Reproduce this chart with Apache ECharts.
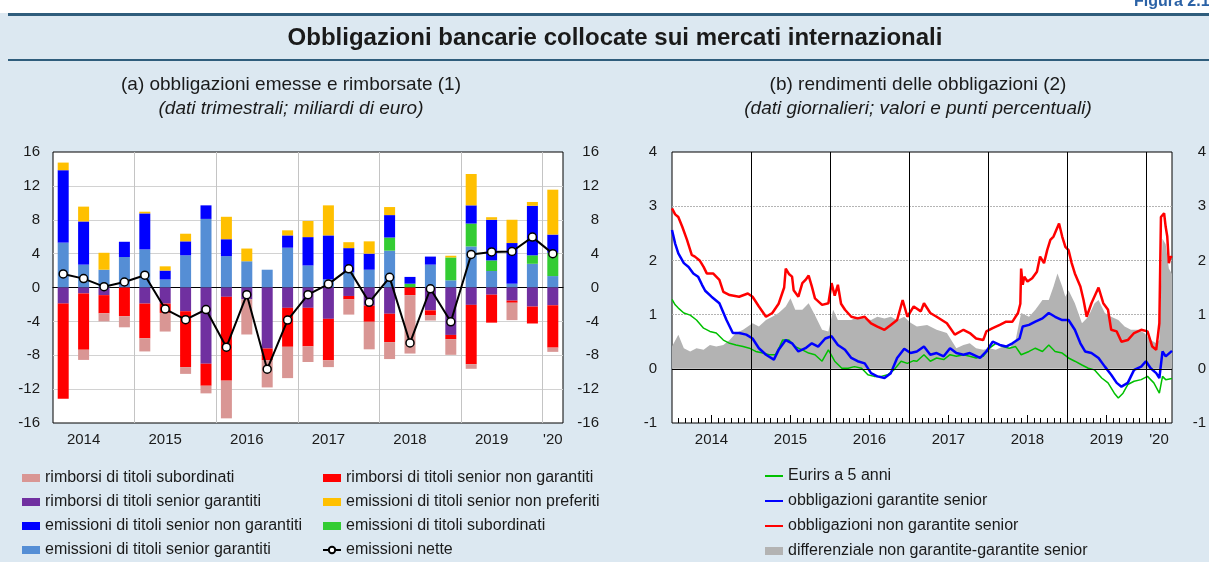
<!DOCTYPE html>
<html>
<head>
<meta charset="utf-8">
<script src="https://cdn.jsdelivr.net/npm/echarts@6/dist/echarts.min.js"></script>
<style>
html, body { margin: 0; padding: 0; background: #dce8f1; }
#main { width: 1209px; height: 562px; }
</style>
</head>
<body>
<div id="main"></div>
<script>
// pannello (a): dati trimestrali, miliardi di euro
const quarters = [
  '2014T1', '2014T2', '2014T3', '2014T4',
  '2015T1', '2015T2', '2015T3', '2015T4',
  '2016T1', '2016T2', '2016T3', '2016T4',
  '2017T1', '2017T2', '2017T3', '2017T4',
  '2018T1', '2018T2', '2018T3', '2018T4',
  '2019T1', '2019T2', '2019T3', '2019T4',
  '2020T1'
];
const quarterLabels = ['2014', '2015', '2016', '2017', '2018', '2019', "'20"];

const emSeniorGarantiti = [5.3, 2.7, 2.1, 3.6, 4.5, 0.95, 3.8, 8.1, 3.7, 3.1, 2.1, 4.7, 2.6, 0.95, 1.8, 2.1, 4.35, 0, 2.7, 0.85, 4.85, 1.95, 0.45, 2.8, 1.35];
const emSubordinati = [0, 0, 0, 0, 0, 0, 0, 0, 0, 0, 0, 0, 0, 0, 0, 0, 1.55, 0.45, 0, 2.7, 2.7, 1.25, 0, 1.0, 2.75];
const emSeniorNonGarantiti = [8.55, 5.1, 0, 1.8, 4.25, 1.05, 1.65, 1.6, 2.0, 0, 0, 1.45, 3.35, 5.2, 2.85, 1.9, 2.65, 0.8, 0.95, 0, 2.15, 4.8, 4.8, 5.85, 2.15];
const emNonPreferiti = [0.9, 1.75, 2.0, 0, 0.2, 0.5, 0.9, 0, 2.65, 1.5, 0, 0.6, 1.9, 3.55, 0.7, 1.45, 0.95, 0, 0, 0.2, 3.7, 0.3, 2.75, 0.45, 5.3];
const rimbSeniorGarantiti = [-1.9, -0.7, -0.9, 0, -1.9, -1.9, -2.8, -9.0, -1.1, -1.4, -7.2, -2.4, -2.4, -3.7, -1.0, -2.15, -3.1, 0, -2.7, -5.6, -2.05, -0.85, -1.55, -2.25, -2.1];
const rimbSeniorNonGarantiti = [-11.25, -6.65, -2.15, -3.4, -4.1, -1.1, -6.6, -2.6, -9.9, 0, -1.4, -4.6, -4.55, -4.9, -0.4, -1.9, -3.35, -0.9, -0.6, -0.5, -7.0, -3.3, -0.25, -2.0, -5.0];
const rimbSubordinati = [0, -1.2, -0.95, -1.3, -1.55, -2.2, -0.8, -0.9, -4.45, -4.15, -3.2, -3.7, -1.85, -0.8, -1.8, -3.25, -2.0, -6.9, -0.6, -1.85, -0.55, 0, -2.05, 0, -0.5];
const emissioniNette = [1.6, 1.05, 0.1, 0.65, 1.45, -2.55, -3.8, -2.6, -7.05, -0.85, -9.65, -3.85, -0.85, 0.4, 2.2, -1.75, 1.2, -6.55, -0.15, -4.05, 3.9, 4.2, 4.25, 5.95, 4.0];

// pannello (b): dati giornalieri (anno decimale, valore)
const rateLabels = ['2014', '2015', '2016', '2017', '2018', '2019', "'20"];
const rateStart = 2014;
const rateEnd = 2020.33;

const eurirs5 = [
  [2014.00, 1.28], [2014.04, 1.18], [2014.08, 1.12], [2014.15, 1.03], [2014.23, 0.99], [2014.31, 0.9],
  [2014.40, 0.75], [2014.48, 0.69], [2014.56, 0.66], [2014.65, 0.53], [2014.73, 0.47], [2014.81, 0.44],
  [2014.90, 0.41], [2014.98, 0.38], [2015.06, 0.32], [2015.15, 0.29], [2015.23, 0.26], [2015.31, 0.26],
  [2015.36, 0.4], [2015.40, 0.53], [2015.48, 0.53], [2015.56, 0.41], [2015.65, 0.35], [2015.73, 0.29],
  [2015.81, 0.26], [2015.90, 0.14], [2015.98, 0.35], [2016.06, 0.14], [2016.15, 0.01], [2016.23, 0.01],
  [2016.31, 0.04], [2016.40, 0.01], [2016.48, -0.11], [2016.56, -0.14], [2016.65, -0.14], [2016.73, -0.11],
  [2016.81, -0.02], [2016.90, 0.14], [2016.98, 0.10], [2017.06, 0.15], [2017.10, 0.14], [2017.19, 0.26],
  [2017.27, 0.14], [2017.35, 0.2], [2017.44, 0.17], [2017.52, 0.26], [2017.60, 0.23], [2017.69, 0.26],
  [2017.77, 0.23], [2017.85, 0.2], [2017.94, 0.23], [2018.02, 0.38], [2018.10, 0.47], [2018.19, 0.41],
  [2018.27, 0.38], [2018.35, 0.41], [2018.42, 0.26], [2018.52, 0.32], [2018.60, 0.38], [2018.69, 0.32],
  [2018.77, 0.44], [2018.85, 0.32], [2018.94, 0.29], [2019.02, 0.2], [2019.10, 0.14], [2019.19, 0.07],
  [2019.27, 0.01], [2019.35, -0.02], [2019.44, -0.17], [2019.52, -0.26], [2019.60, -0.45], [2019.65, -0.54],
  [2019.71, -0.45], [2019.77, -0.29], [2019.85, -0.23], [2019.94, -0.2], [2020.02, -0.14], [2020.10, -0.26],
  [2020.17, -0.45], [2020.21, -0.14], [2020.25, -0.2], [2020.33, -0.18]
];
const garantiteSenior = [
  [2014.00, 2.56], [2014.04, 2.31], [2014.08, 2.13], [2014.15, 1.95], [2014.21, 1.88], [2014.27, 1.76],
  [2014.33, 1.7], [2014.38, 1.55], [2014.42, 1.44], [2014.50, 1.33], [2014.60, 1.21], [2014.69, 0.9],
  [2014.73, 0.78], [2014.77, 0.66], [2014.85, 0.66], [2014.94, 0.63], [2015.02, 0.56], [2015.10, 0.38],
  [2015.19, 0.26], [2015.29, 0.17], [2015.35, 0.35], [2015.44, 0.53], [2015.52, 0.47], [2015.60, 0.32],
  [2015.69, 0.38], [2015.77, 0.47], [2015.85, 0.41], [2015.94, 0.56], [2016.02, 0.6], [2016.10, 0.44],
  [2016.19, 0.35], [2016.27, 0.2], [2016.35, 0.14], [2016.44, 0.1], [2016.52, -0.08], [2016.60, -0.14],
  [2016.69, -0.17], [2016.77, -0.08], [2016.85, 0.2], [2016.94, 0.37], [2017.02, 0.29], [2017.10, 0.32],
  [2017.19, 0.41], [2017.27, 0.26], [2017.35, 0.29], [2017.44, 0.23], [2017.52, 0.38], [2017.60, 0.29],
  [2017.69, 0.26], [2017.77, 0.29], [2017.90, 0.2], [2017.98, 0.32], [2018.06, 0.5], [2018.15, 0.44],
  [2018.23, 0.41], [2018.31, 0.47], [2018.40, 0.56], [2018.44, 0.78], [2018.52, 0.81], [2018.60, 0.87],
  [2018.69, 0.93], [2018.77, 1.03], [2018.85, 0.96], [2018.94, 0.9], [2019.02, 0.9], [2019.10, 0.72],
  [2019.17, 0.47], [2019.23, 0.32], [2019.31, 0.29], [2019.40, 0.2], [2019.48, 0.04], [2019.56, -0.11],
  [2019.63, -0.26], [2019.69, -0.33], [2019.77, -0.26], [2019.85, -0.02], [2019.94, 0.04], [2020.00, 0.14],
  [2020.06, 0.01], [2020.13, -0.08], [2020.17, -0.17], [2020.21, 0.32], [2020.25, 0.23], [2020.33, 0.33]
];
const nonGarantiteSenior = [
  [2014.00, 2.96], [2014.04, 2.85], [2014.08, 2.8], [2014.13, 2.62], [2014.19, 2.38], [2014.25, 2.1],
  [2014.29, 2.07], [2014.35, 2.0], [2014.40, 1.88], [2014.44, 1.76], [2014.52, 1.76], [2014.60, 1.64],
  [2014.65, 1.42], [2014.73, 1.36], [2014.85, 1.33], [2014.96, 1.39], [2015.02, 1.33], [2015.10, 1.15],
  [2015.19, 0.96], [2015.27, 1.03], [2015.35, 1.2], [2015.42, 1.5], [2015.44, 1.85], [2015.48, 1.75],
  [2015.52, 1.7], [2015.54, 1.45], [2015.60, 1.33], [2015.65, 1.58], [2015.69, 1.64], [2015.73, 1.72],
  [2015.77, 1.52], [2015.81, 1.3], [2015.90, 1.18], [2015.98, 1.21], [2016.02, 1.58], [2016.06, 1.35],
  [2016.10, 1.55], [2016.14, 1.2], [2016.19, 1.09], [2016.27, 0.96], [2016.35, 0.93], [2016.44, 0.96],
  [2016.52, 0.84], [2016.60, 0.78], [2016.69, 0.72], [2016.77, 0.81], [2016.85, 0.9], [2016.92, 1.27],
  [2016.98, 0.96], [2017.06, 1.15], [2017.15, 1.06], [2017.19, 1.21], [2017.27, 1.03], [2017.35, 0.96],
  [2017.48, 0.84], [2017.58, 0.63], [2017.69, 0.72], [2017.77, 0.66], [2017.85, 0.56], [2017.94, 0.53],
  [2017.98, 0.69], [2018.06, 0.75], [2018.15, 0.81], [2018.23, 0.87], [2018.31, 0.87], [2018.38, 1.03],
  [2018.41, 1.2], [2018.42, 1.85], [2018.44, 1.55], [2018.46, 1.7], [2018.50, 1.61], [2018.56, 1.67],
  [2018.62, 1.79], [2018.66, 2.07], [2018.71, 1.95], [2018.75, 2.19], [2018.79, 2.38], [2018.83, 2.44],
  [2018.90, 2.68], [2018.94, 2.44], [2018.98, 2.25], [2019.02, 2.19], [2019.06, 1.95], [2019.10, 1.76],
  [2019.17, 1.52], [2019.21, 1.27], [2019.25, 0.96], [2019.31, 1.21], [2019.40, 1.5], [2019.46, 1.21],
  [2019.52, 1.09], [2019.56, 0.72], [2019.63, 0.69], [2019.69, 0.5], [2019.77, 0.53], [2019.85, 0.66],
  [2019.94, 0.72], [2020.02, 0.69], [2020.08, 0.41], [2020.13, 0.35], [2020.17, 0.84], [2020.19, 2.8],
  [2020.23, 2.87], [2020.25, 2.62], [2020.27, 2.44], [2020.29, 1.95], [2020.31, 2.07], [2020.33, 2.05]
];
const differenziale = [
  [2014.00, 0.41], [2014.08, 0.63], [2014.15, 0.38], [2014.23, 0.32], [2014.31, 0.38], [2014.40, 0.35],
  [2014.48, 0.44], [2014.56, 0.41], [2014.65, 0.44], [2014.73, 0.53], [2014.81, 0.66], [2014.90, 0.72],
  [2015.02, 0.84], [2015.10, 0.78], [2015.19, 0.9], [2015.27, 0.96], [2015.35, 1.03], [2015.44, 1.15],
  [2015.50, 1.3], [2015.56, 1.09], [2015.65, 1.09], [2015.73, 1.21], [2015.81, 0.99], [2015.90, 0.72],
  [2015.98, 0.69], [2016.04, 1.09], [2016.10, 0.9], [2016.27, 0.9], [2016.35, 0.96], [2016.52, 0.9],
  [2016.60, 0.96], [2016.69, 0.93], [2016.77, 0.96], [2016.85, 0.9], [2016.94, 0.96], [2017.02, 0.85],
  [2017.10, 0.78], [2017.23, 0.81], [2017.35, 0.72], [2017.48, 0.66], [2017.60, 0.38], [2017.69, 0.44],
  [2017.77, 0.47], [2017.85, 0.38], [2017.94, 0.35], [2018.02, 0.38], [2018.10, 0.35], [2018.19, 0.41],
  [2018.27, 0.38], [2018.35, 0.53], [2018.42, 1.03], [2018.52, 0.96], [2018.60, 1.09], [2018.69, 1.27],
  [2018.77, 1.27], [2018.83, 1.52], [2018.88, 1.76], [2018.90, 1.79], [2018.94, 1.52], [2018.98, 1.33],
  [2019.02, 1.45], [2019.10, 1.21], [2019.19, 0.84], [2019.27, 0.96], [2019.35, 1.21], [2019.40, 1.27],
  [2019.48, 1.03], [2019.56, 0.96], [2019.65, 0.9], [2019.73, 0.78], [2019.81, 0.72], [2019.90, 0.72],
  [2019.98, 0.66], [2020.06, 0.53], [2020.13, 0.47], [2020.17, 0.53], [2020.21, 2.4], [2020.25, 2.3],
  [2020.29, 1.85], [2020.33, 1.75]
];

const FONT = "'Liberation Sans', Arial, Helvetica, sans-serif";
const TXT = '#1a1a1a';

// etichetta dell'anno sotto il secondo trimestre (o sotto l'unico, per il 2020)
const yearCenters = [];
quarterLabels.forEach(function (lab, i) {
  const y = String(2014 + i);
  let first = -1, count = 0;
  quarters.forEach(function (q, k) {
    if (q.indexOf(y) === 0) { if (first < 0) first = k; count++; }
  });
  yearCenters.push(first + (count > 1 ? 1.5 : 0.5));
});

// centri degli anni, tacche mensili e di metà anno (pannello b)
const rateCenters = rateLabels.map(function (l, i) {
  const s = rateStart + i;
  return (s + Math.min(s + 1, rateEnd)) / 2;
});
const monthTicks = [];
for (let m = 1; rateStart + m / 12 < rateEnd; m++) {
  if (m % 12 !== 0 && m % 12 !== 6) monthTicks.push(rateStart + m / 12);
}
const midTicks = [];
for (let y = rateStart; y + 0.5 < rateEnd; y++) midTicks.push(y + 0.5);

function pickLabel(centers, labels) {
  return function (v) {
    for (let i = 0; i < centers.length; i++) {
      if (Math.abs(centers[i] - v) < 1e-6) return labels[i];
    }
    return '';
  };
}

const myChart = echarts.init(document.getElementById('main'));

const labelStyle = { color: TXT, fontSize: 15, fontFamily: FONT };
const legendText = { color: TXT, fontSize: 16, fontFamily: FONT, lineHeight: 16 };

function barSeries(name, data, color) {
  return {
    name: name, type: 'bar', stack: 'tot', xAxisIndex: 0, yAxisIndex: 0,
    barWidth: 11, data: data,
    itemStyle: { color: color }
  };
}

function centered(x, y, text, font) {
  return {
    type: 'text', x: x, y: y,
    style: { text: text, font: font, fill: TXT, align: 'center', verticalAlign: 'middle', textAlign: 'center', textVerticalAlign: 'middle' }
  };
}

const option = {
  backgroundColor: '#dce8f1',
  animation: false,
  graphic: [
    { type: 'rect', shape: { x: 0, y: 0, width: 1209, height: 13 }, style: { fill: '#ffffff' } },
    { type: 'rect', shape: { x: 8, y: 13, width: 1201, height: 3 }, style: { fill: '#2f5d7c' } },
    { type: 'rect', shape: { x: 8, y: 59, width: 1201, height: 2 }, style: { fill: '#2f5d7c' } },
    { type: 'text', x: 1134, y: -6, style: { text: 'Figura 2.1', font: 'bold 16px ' + FONT, fill: '#2b62a6' } },
    centered(615, 38, 'Obbligazioni bancarie collocate sui mercati internazionali', 'bold 24px ' + FONT),
    centered(291, 85, '(a) obbligazioni emesse e rimborsate (1)', '19px ' + FONT),
    centered(291, 109, '(dati trimestrali; miliardi di euro)', 'italic 19px ' + FONT),
    centered(918, 85, '(b) rendimenti delle obbligazioni (2)', '19px ' + FONT),
    centered(918, 109, '(dati giornalieri; valori e punti percentuali)', 'italic 19px ' + FONT)
  ],
  legend: [
    {
      left: 22, top: 470, height: 100, padding: 0, orient: 'vertical', itemGap: 8, itemWidth: 18, itemHeight: 8,
      selectedMode: false, textStyle: legendText,
      data: [
        { name: 'rimborsi di titoli subordinati', icon: 'rect' },
        { name: 'rimborsi di titoli senior garantiti', icon: 'rect' },
        { name: 'emissioni di titoli senior non garantiti', icon: 'rect' },
        { name: 'emissioni di titoli senior garantiti', icon: 'rect' }
      ]
    },
    {
      left: 322, top: 470, height: 100, padding: 0, orient: 'vertical', itemGap: 8, itemWidth: 18, itemHeight: 8,
      selectedMode: false, textStyle: legendText,
      data: [
        { name: 'rimborsi di titoli senior non garantiti', icon: 'rect' },
        { name: 'emissioni di titoli senior non preferiti', icon: 'rect' },
        { name: 'emissioni di titoli subordinati', icon: 'rect' },
        'emissioni nette'
      ]
    },
    {
      left: 764, top: 468, height: 100, padding: 0, orient: 'vertical', itemGap: 9, itemWidth: 18, itemHeight: 8,
      selectedMode: false, textStyle: legendText,
      data: [
        { name: 'Eurirs a 5 anni', itemStyle: { opacity: 0 } },
        { name: 'obbligazioni garantite senior', itemStyle: { opacity: 0 } },
        { name: 'obbligazioni non garantite senior', itemStyle: { opacity: 0 } },
        { name: 'differenziale non garantite-garantite senior', icon: 'rect' }
      ]
    }
  ],
  grid: [
    { left: 53, top: 152, width: 510, height: 271, show: true, backgroundColor: '#ffffff', borderColor: '#000', borderWidth: 1 },
    { left: 672, top: 152, width: 506, height: 271, show: true, backgroundColor: '#ffffff', borderColor: '#000', borderWidth: 1 }
  ],
  xAxis: [
    {
      type: 'category', gridIndex: 0, data: quarters,
      axisLine: { show: true, onZero: true, lineStyle: { color: '#000', width: 1.2 } },
      axisTick: { show: false }, axisLabel: { show: false }, splitLine: { show: false }
    },
    {
      type: 'value', gridIndex: 0, min: 0, max: quarters.length, interval: 4, position: 'bottom',
      axisLine: { show: false, onZero: false }, axisTick: { show: false },
      splitLine: { show: true, showMinLine: false, showMaxLine: false, lineStyle: { color: '#c4c4c4', width: 1 } },
      axisLabel: Object.assign({ margin: 9, customValues: yearCenters, formatter: pickLabel(yearCenters, quarterLabels) }, labelStyle)
    },
    {
      type: 'value', gridIndex: 1, min: rateStart, max: rateEnd, interval: 1, position: 'bottom',
      axisLine: { show: false, onZero: false }, axisTick: { show: false },
      splitLine: { show: true, showMinLine: false, showMaxLine: false, lineStyle: { color: '#000', width: 1 } },
      axisLabel: Object.assign({ margin: 9, customValues: rateCenters, formatter: pickLabel(rateCenters, rateLabels) }, labelStyle)
    },
    {
      type: 'value', gridIndex: 1, min: rateStart, max: rateEnd, position: 'bottom',
      axisLine: { show: false, onZero: false }, splitLine: { show: false }, axisLabel: { show: false },
      axisTick: { show: true, inside: true, length: 5, customValues: monthTicks, lineStyle: { color: '#000', width: 1 } }
    },
    {
      type: 'value', gridIndex: 1, min: rateStart, max: rateEnd, position: 'bottom',
      axisLine: { show: false, onZero: false }, splitLine: { show: false }, axisLabel: { show: false },
      axisTick: { show: true, inside: true, length: 8, customValues: midTicks, lineStyle: { color: '#000', width: 1 } }
    }
  ],
  yAxis: [
    {
      type: 'value', gridIndex: 0, min: -16, max: 16, interval: 4, position: 'left',
      axisLine: { show: false }, axisTick: { show: false },
      splitLine: { showMinLine: false, showMaxLine: false, lineStyle: { color: '#d2d2d2', width: 1 } },
      axisLabel: Object.assign({ margin: 13 }, labelStyle)
    },
    {
      type: 'value', gridIndex: 0, min: -16, max: 16, interval: 4, position: 'right',
      axisLine: { show: false }, axisTick: { show: false }, splitLine: { show: false },
      axisLabel: Object.assign({ margin: 36, align: 'right' }, labelStyle)
    },
    {
      type: 'value', gridIndex: 1, min: -1, max: 4, interval: 1, position: 'left',
      axisLine: { show: false }, axisTick: { show: false },
      splitLine: { showMinLine: false, showMaxLine: false, lineStyle: { color: '#b4b4b4', width: 1, type: [2, 1] } },
      axisLabel: Object.assign({ margin: 15 }, labelStyle)
    },
    {
      type: 'value', gridIndex: 1, min: -1, max: 4, interval: 1, position: 'right',
      axisLine: { show: false }, axisTick: { show: false }, splitLine: { show: false },
      axisLabel: Object.assign({ margin: 34, align: 'right' }, labelStyle)
    }
  ],
  series: [
    barSeries('emissioni di titoli senior garantiti', emSeniorGarantiti, '#558ed5'),
    barSeries('emissioni di titoli subordinati', emSubordinati, '#33cc33'),
    barSeries('emissioni di titoli senior non garantiti', emSeniorNonGarantiti, '#0000ff'),
    barSeries('emissioni di titoli senior non preferiti', emNonPreferiti, '#ffc000'),
    barSeries('rimborsi di titoli senior garantiti', rimbSeniorGarantiti, '#7030a0'),
    barSeries('rimborsi di titoli senior non garantiti', rimbSeniorNonGarantiti, '#ff0000'),
    barSeries('rimborsi di titoli subordinati', rimbSubordinati, '#d99694'),
    {
      name: 'emissioni nette', type: 'line', xAxisIndex: 0, yAxisIndex: 0, data: emissioniNette,
      symbol: 'circle', symbolSize: 8, z: 5,
      lineStyle: { color: '#000', width: 2 },
      itemStyle: { color: '#fff', borderColor: '#000', borderWidth: 1.5 }
    },
    {
      name: 'differenziale non garantite-garantite senior', type: 'line', xAxisIndex: 2, yAxisIndex: 2,
      data: differenziale, symbol: 'none', itemStyle: { color: '#b3b3b3' },
      lineStyle: { width: 0, color: '#b3b3b3' }, areaStyle: { color: '#b3b3b3', opacity: 1 },
      markLine: {
        silent: true, symbol: 'none', label: { show: false },
        lineStyle: { color: '#000', width: 1, type: 'solid' },
        data: [{ yAxis: 0 }, { xAxis: 2015 }, { xAxis: 2016 }, { xAxis: 2017 }, { xAxis: 2018 }, { xAxis: 2019 }, { xAxis: 2020 }]
      }
    },
    {
      name: 'Eurirs a 5 anni', type: 'line', xAxisIndex: 2, yAxisIndex: 2, data: eurirs5,
      symbol: 'none', itemStyle: { color: '#00c000' }, lineStyle: { color: '#00c000', width: 1.5 }
    },
    {
      name: 'obbligazioni garantite senior', type: 'line', xAxisIndex: 2, yAxisIndex: 2, data: garantiteSenior,
      symbol: 'none', itemStyle: { color: '#0000ff' }, lineStyle: { color: '#0000ff', width: 2.5 }
    },
    {
      name: 'obbligazioni non garantite senior', type: 'line', xAxisIndex: 2, yAxisIndex: 2, data: nonGarantiteSenior,
      symbol: 'none', itemStyle: { color: '#ff0000' }, lineStyle: { color: '#ff0000', width: 2.5 }
    }
  ]
};

myChart.setOption(option);
</script>
</body>
</html>
